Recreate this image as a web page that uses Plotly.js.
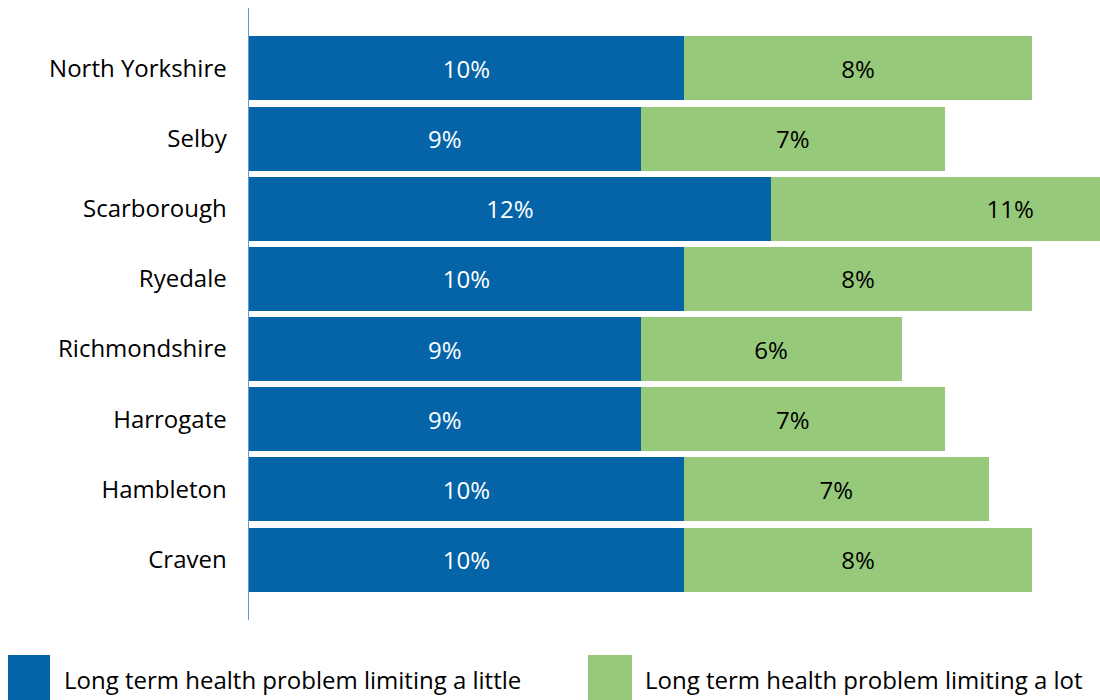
<!DOCTYPE html>
<html>
<head>
<meta charset="utf-8">
<script src="https://cdn.plot.ly/plotly-3.0.1.min.js"></script>
<style>body{margin:0;padding:0;background:#fff;}#chart{width:1100px;height:700px;}</style>
</head>
<body>
<div id="chart"></div>
<script>
var categories = ["North Yorkshire","Selby","Scarborough","Ryedale","Richmondshire","Harrogate","Hambleton","Craven"];
var limitingLittle = [10, 9, 12, 10, 9, 9, 10, 10];
var limitingLot = [8, 7, 11, 8, 6, 7, 7, 8];
var seriesNames = ["Long term health problem limiting a little","Long term health problem limiting a lot"];
var colors = ["#0564A8", "#96C97A"];

var W = 1100, H = 700, mL = 249, mR = 0, mT = 8, mB = 80;
var pw = W - mL - mR, ph = H - mT - mB;
function px(x){ return (x - mL) / pw; }
function py(y){ return (H - mB - y) / ph; }

var FONT = "'Open Sans', Lato, sans-serif";
var FS = 24;

var traces = [
  {type:"bar", orientation:"h", y:categories, x:limitingLittle, name:seriesNames[0],
   marker:{color:colors[0]}, text:limitingLittle.map(function(v){return v+"%";}),
   textposition:"inside", insidetextanchor:"middle", textangle:0,
   textfont:{family:FONT, size:FS, color:"#ffffff"}, hoverinfo:"skip", cliponaxis:true},
  {type:"bar", orientation:"h", y:categories, x:limitingLot, name:seriesNames[1],
   marker:{color:colors[1]}, text:limitingLot.map(function(v){return v+"%";}),
   textposition:"inside", insidetextanchor:"middle", textangle:0,
   textfont:{family:FONT, size:FS, color:"#000000"}, hoverinfo:"skip", cliponaxis:true}
];

var layout = {
  width: W, height: H,
  margin:{l:mL, r:mR, t:mT, b:mB, pad:0},
  paper_bgcolor:"#ffffff", plot_bgcolor:"#ffffff",
  barmode:"stack", bargap:0.088,
  showlegend:false,
  font:{family:FONT, size:FS, color:"#000000"},
  xaxis:{range:[0, pw/43.5], showgrid:false, zeroline:false, showticklabels:false, ticks:"", showline:false, fixedrange:true},
  yaxis:{type:"category", range:[7.86, -0.86], showgrid:false, zeroline:false, ticks:"",
         showline:true, linecolor:"#5B9BD5", linewidth:1.5, ticklabelstandoff:16,
         tickfont:{family:FONT, size:FS, color:"#000000"}, fixedrange:true},
  shapes:[
    {type:"rect", xref:"paper", yref:"paper", x0:px(8), x1:px(50), y0:py(655), y1:py(700), fillcolor:colors[0], line:{width:0}},
    {type:"rect", xref:"paper", yref:"paper", x0:px(588), x1:px(632), y0:py(655), y1:py(700), fillcolor:colors[1], line:{width:0}}
  ],
  annotations:[
    {xref:"paper", yref:"paper", x:px(62), y:py(679), xanchor:"left", yanchor:"middle", text:seriesNames[0], showarrow:false, font:{family:FONT, size:FS, color:"#000000"}},
    {xref:"paper", yref:"paper", x:px(643), y:py(679), xanchor:"left", yanchor:"middle", text:seriesNames[1], showarrow:false, font:{family:FONT, size:FS, color:"#000000"}}
  ]
};

Plotly.newPlot("chart", traces, layout, {displayModeBar:false, staticPlot:true});
</script>
</body>
</html>
